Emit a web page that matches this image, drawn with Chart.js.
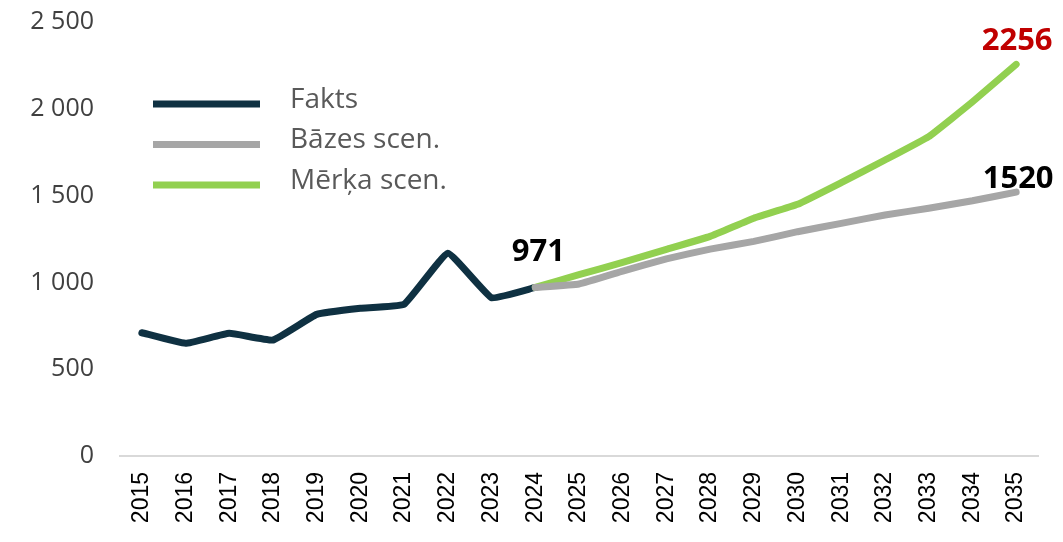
<!DOCTYPE html>
<html>
<head>
<meta charset="utf-8">
<script src="https://cdn.jsdelivr.net/npm/chart.js@4.4.1/dist/chart.umd.min.js"></script>
<style>
  html, body { margin: 0; padding: 0; background: #fff; }
  #wrap { width: 1063px; height: 542px; }
</style>
</head>
<body>
<div id="wrap"><canvas id="myChart" width="1063" height="542"></canvas></div>
<script>
// data
const years = ['2015', '2016', '2017', '2018', '2019', '2020', '2021', '2022', '2023', '2024',
    '2025', '2026', '2027', '2028', '2029', '2030', '2031', '2032', '2033', '2034', '2035'];

const fakts = [710, 649, 707, 668, 816, 851, 874, 1168, 912, 971,
    null, null, null, null, null, null, null, null, null, null, null];

const bazesScen = [null, null, null, null, null, null, null, null, null, 971,
    991, 1065, 1135, 1192, 1236, 1292, 1340, 1388, 1427, 1470, 1520];

const merkaScen = [null, null, null, null, null, null, null, null, null, 971,
    1045, 1115, 1190, 1265, 1370, 1450, 1575, 1705, 1840, 2040, 2256];

const seriesNames = ['Fakts', 'Bāzes scen.', 'Mērķa scen.'];
const seriesColors = ['#0f3142', '#a6a6a6', '#92d050'];

const yTicks = [0, 500, 1000, 1500, 2000, 2500];

// number format with space as thousands separator: 2 500
function fmt(v) {
    return String(v).replace(/\B(?=(\d{3})+(?!\d))/g, ' ');
}

// value labels: which dataset / which point, and style
const valueLabels = [
    { ds: 0, idx: 9, color: '#000000', dx: 3, dy: -26 },
    { ds: 1, idx: 20, color: '#000000', dx: 2, dy: -4 },
    { ds: 2, idx: 20, color: '#c00000', dx: 1, dy: -14 }
];

const labelPlugin = {
    id: 'labelPlugin',
    afterDatasetsDraw(chart) {
        const ctx = chart.ctx;
        ctx.save();
        ctx.font = 'bold 31px "Open Sans"';
        ctx.textAlign = 'center';
        ctx.textBaseline = 'alphabetic';
        valueLabels.forEach(l => {
            const v = chart.data.datasets[l.ds].data[l.idx];
            const x = chart.scales.x.getPixelForValue(l.idx);
            const y = chart.scales.y.getPixelForValue(v);
            ctx.fillStyle = l.color;
            ctx.fillText(String(v), x + l.dx, y + l.dy);
        });

        // legend inside the plot, top left
        ctx.font = '28px "Open Sans"';
        ctx.textAlign = 'left';
        ctx.textBaseline = 'middle';
        seriesNames.forEach((name, i) => {
            const y = 104 + i * 40.5;
            ctx.strokeStyle = seriesColors[i];
            ctx.lineWidth = 7;
            ctx.lineCap = 'butt';
            ctx.beginPath();
            ctx.moveTo(153, y);
            ctx.lineTo(260, y);
            ctx.stroke();
            ctx.fillStyle = '#595959';
            ctx.fillText(name, 290, y - 4);
        });
        ctx.restore();
    }
};

const ctx = document.getElementById('myChart').getContext('2d');

const myChart = new Chart(ctx, {
    type: 'line',
    data: {
        labels: years,
        datasets: [{
            label: seriesNames[0],
            data: fakts,
            borderColor: seriesColors[0],
            order: 2
        }, {
            label: seriesNames[1],
            data: bazesScen,
            borderColor: seriesColors[1],
            order: 0
        }, {
            label: seriesNames[2],
            data: merkaScen,
            borderColor: seriesColors[2],
            order: 1
        }]
    },
    options: {
        responsive: false,
        devicePixelRatio: 1,
        animation: false,
        elements: {
            line: { borderWidth: 7, tension: 0.1, borderCapStyle: 'round', fill: false },
            point: { radius: 0, hoverRadius: 0 }
        },
        plugins: {
            legend: { display: false },
            tooltip: { enabled: false }
        },
        layout: {
            padding: { top: 22, right: 25, bottom: 0, left: 0 }
        },
        scales: {
            x: {
                offset: true,
                grid: { display: false, drawTicks: false, tickLength: 0 },
                border: { display: true, color: '#d9d9d9', width: 2 },
                ticks: {
                    autoSkip: false,
                    minRotation: 90,
                    maxRotation: 90,
                    padding: 16,
                    color: '#000000',
                    font: { family: '"Liberation Sans", Arial', size: 23 }
                },
                afterFit(scale) { scale.height = 86; }
            },
            y: {
                min: 0,
                max: 2500,
                grid: { display: false, drawTicks: false, tickLength: 0 },
                border: { display: false },
                afterBuildTicks(scale) {
                    scale.ticks = yTicks.map(v => ({ value: v }));
                },
                ticks: {
                    padding: 26,
                    color: '#404040',
                    font: { family: '"Open Sans"', size: 25 },
                    callback: v => fmt(v)
                },
                afterFit(scale) {
                    scale.width = 120;
                    scale.paddingTop = 0;
                    scale.paddingBottom = 0;
                }
            }
        }
    },
    plugins: [labelPlugin]
});
</script>
</body>
</html>
